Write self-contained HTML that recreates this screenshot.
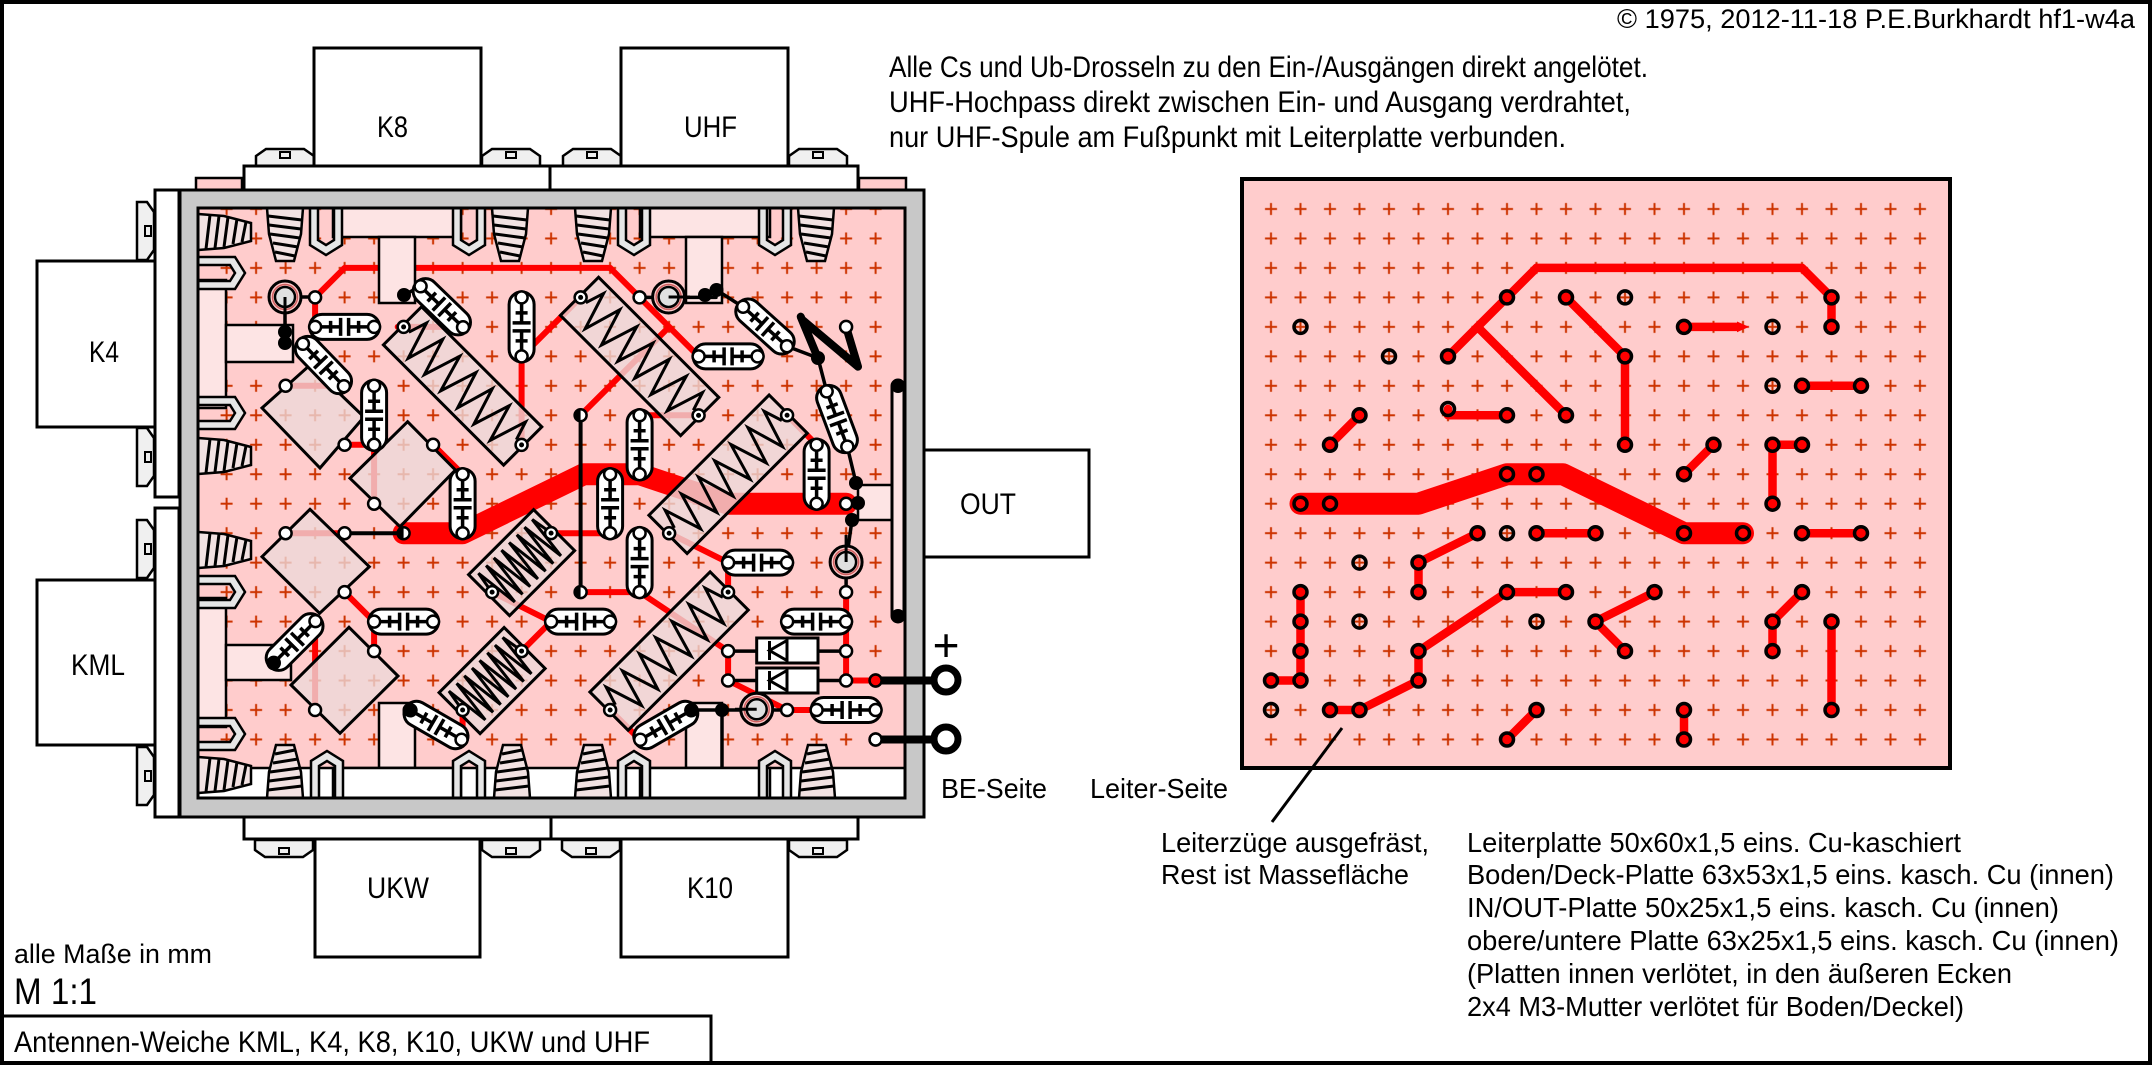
<!DOCTYPE html>
<html><head><meta charset="utf-8"><style>html,body{margin:0;padding:0;background:#fff}svg{display:block}</style></head>
<body>
<svg xmlns="http://www.w3.org/2000/svg" width="2153" height="1066" viewBox="0 0 2153 1066" font-family="'Liberation Sans', Arial, sans-serif">
<defs>
 <pattern id="pl" patternUnits="userSpaceOnUse" x="211.85" y="194.265" width="29.5" height="29.47">
  <path d="M8.75 14.735H20.75M14.75 8.735V20.735" stroke="#cc3300" stroke-width="2" fill="none"/>
 </pattern>
 <pattern id="pr" patternUnits="userSpaceOnUse" x="1256.25" y="194.265" width="29.5" height="29.47">
  <path d="M8.75 14.735H20.75M14.75 8.735V20.735" stroke="#cc3300" stroke-width="2" fill="none"/>
 </pattern>
 <g id="cap">
  <rect x="-35" y="-12.5" width="70" height="25" rx="12.5" fill="#fff" stroke="#000" stroke-width="3"/>
  <path d="M-23 0H-4M-4 -9V9M4 -9V9M4 0H23M-14 -6V6M14 -6V6" stroke="#000" stroke-width="3.5" fill="none"/>
  <circle cx="-29.5" cy="0" r="6" fill="#fff" stroke="#000" stroke-width="2.5"/>
  <circle cx="29.5" cy="0" r="6" fill="#fff" stroke="#000" stroke-width="2.5"/>
 </g>
 <g id="indL">
  <rect x="-85" y="-27" width="170" height="54" fill="#eed8d8" fill-opacity="0.8" stroke="#000" stroke-width="3"/>
  <polyline points="-76,0 -70,-19 -58,19 -47,-19 -35,19 -23,-19 -12,19 0,-19 12,19 23,-19 35,19 47,-19 58,19 70,-19 76,0" fill="none" stroke="#000" stroke-width="3"/>
  <circle cx="-83.4" cy="0" r="6" fill="#fff" stroke="#000" stroke-width="2.5"/>
  <circle cx="83.4" cy="0" r="6" fill="#fff" stroke="#000" stroke-width="2.5"/>
  <circle cx="-83.4" cy="0" r="2.5" fill="#000"/>
  <circle cx="83.4" cy="0" r="2.5" fill="#000"/>
 </g>
 <g id="indS">
  <rect x="-46" y="-29" width="92" height="58" fill="#eed8d8" fill-opacity="0.8" stroke="#000" stroke-width="3"/>
  <polyline points="-42,0 -38,-23 -32.6,23 -27.1,-23 -21.7,23 -16.3,-23 -10.9,23 -5.4,-23 0,23 5.4,-23 10.9,23 16.3,-23 21.7,23 27.1,-23 32.6,23 38,-23 42,0" fill="none" stroke="#000" stroke-width="3"/>
  <circle cx="-41.7" cy="0" r="6" fill="#fff" stroke="#000" stroke-width="2.5"/>
  <circle cx="41.7" cy="0" r="6" fill="#fff" stroke="#000" stroke-width="2.5"/>
  <circle cx="-41.7" cy="0" r="2.5" fill="#000"/>
  <circle cx="41.7" cy="0" r="2.5" fill="#000"/>
 </g>
 <g id="cone">
  <path d="M0 0H36L34 26L27 53H9L2 26Z" fill="#f2e2e2" stroke="#000" stroke-width="2.5"/>
  <path d="M1 8L35 12M2 17L34 21M3 26L33 30M6 35L31 39M8 44L28 48" stroke="#000" stroke-width="3" fill="none"/>
 </g>
 <g id="clip">
  <path d="M0 0V37L16 47L32 37V0H24V32L16 37L8 32V0Z" fill="#e6e6e6" stroke="#000" stroke-width="2.5"/>
 </g>
 <g id="scr">
  <path d="M0 18V8L10 1H48L58 8V18Z" fill="#f0f0f0" stroke="#000" stroke-width="2.5"/>
  <rect x="24" y="4" width="10" height="6" fill="#f0f0f0" stroke="#000" stroke-width="2"/>
 </g>
 <g id="coax">
  <circle r="16" fill="#ffcccc" stroke="#000" stroke-width="3"/>
  <circle r="12.5" fill="none" stroke="#d06060" stroke-width="1.5"/>
  <circle r="10" fill="#e0e0e0" stroke="#000" stroke-width="2.5"/>
 </g>
 <circle id="pad" r="6" fill="#fff" stroke="#000" stroke-width="2.5"/>
</defs>

<rect x="0" y="0" width="2153" height="1066" fill="#fff"/>
<rect x="2" y="2" width="2148" height="1061" fill="none" stroke="#000" stroke-width="4"/>

<!-- top connectors -->
<use href="#scr" transform="translate(256,148)"/>
<use href="#scr" transform="translate(482,148)"/>
<use href="#scr" transform="translate(563,148)"/>
<use href="#scr" transform="translate(789,148)"/>
<rect x="314" y="48" width="167" height="118" fill="#fff" stroke="#000" stroke-width="3"/>
<rect x="621" y="48" width="167" height="118" fill="#fff" stroke="#000" stroke-width="3"/>
<rect x="244" y="166" width="306" height="24" fill="#fff" stroke="#000" stroke-width="3"/>
<rect x="550" y="166" width="308" height="24" fill="#fff" stroke="#000" stroke-width="3"/>
<rect x="196" y="178" width="46" height="12" fill="#ffcccc" stroke="#000" stroke-width="2.5"/>
<rect x="859" y="178" width="47" height="12" fill="#ffcccc" stroke="#000" stroke-width="2.5"/>

<!-- left connectors -->
<use href="#scr" transform="translate(155,202) rotate(90)"/>
<use href="#scr" transform="translate(155,428) rotate(90)"/>
<use href="#scr" transform="translate(155,520) rotate(90)"/>
<use href="#scr" transform="translate(155,747) rotate(90)"/>
<rect x="37" y="261" width="118" height="166" fill="#fff" stroke="#000" stroke-width="3"/>
<rect x="37" y="580" width="118" height="165" fill="#fff" stroke="#000" stroke-width="3"/>
<rect x="155" y="190" width="24" height="307" fill="#fff" stroke="#000" stroke-width="3"/>
<rect x="155" y="508" width="24" height="309" fill="#fff" stroke="#000" stroke-width="3"/>

<!-- bottom connectors -->
<use href="#scr" transform="translate(255,858) scale(1,-1)"/>
<use href="#scr" transform="translate(482,858) scale(1,-1)"/>
<use href="#scr" transform="translate(562,858) scale(1,-1)"/>
<use href="#scr" transform="translate(789,858) scale(1,-1)"/>
<rect x="315" y="839" width="165" height="118" fill="#fff" stroke="#000" stroke-width="3"/>
<rect x="621" y="839" width="167" height="118" fill="#fff" stroke="#000" stroke-width="3"/>
<rect x="244" y="817" width="307" height="22" fill="#fff" stroke="#000" stroke-width="3"/>
<rect x="551" y="817" width="307" height="22" fill="#fff" stroke="#000" stroke-width="3"/>

<!-- OUT -->
<rect x="924" y="450" width="165" height="107" fill="#fff" stroke="#000" stroke-width="3"/>

<!-- frame -->
<rect x="180" y="190" width="744" height="627" fill="#c8c8c8" stroke="#000" stroke-width="3"/>
<rect x="198" y="208" width="707" height="590" fill="#ffcccc"/>
<rect x="212" y="208" width="678" height="546" fill="url(#pl)"/>

<!-- left board traces (mirrored) -->
<g stroke="#ff0000" stroke-width="6" fill="none" stroke-linecap="round" stroke-linejoin="round">
 <path d="M610.1 267.9H344.6L315.1 297.4V326.9"/>
 <path d="M610.1 267.9L639.6 297.4L698.6 356.4"/>
 <path d="M669.1 326.9L580.6 415.3"/>
 <path d="M580.6 297.4L521.6 356.4V444.8"/>
 <path d="M787.1 415.3L816.6 444.8"/>
 <path d="M698.6 415.3H639.6"/>
 <path d="M462.6 326.9H397.7"/>
 <path d="M344.6 385.8H285.6"/>
 <path d="M462.6 474.2L433.1 444.8"/>
 <path d="M374.1 444.8H344.6M374.1 444.8V503.7"/>
 <path d="M669.1 533.2L728.1 562.6V592.1"/>
 <path d="M610.1 533.2H551.1"/>
 <path d="M846.1 592.1V680.5H875.6"/>
 <path d="M639.6 592.1H580.6"/>
 <path d="M639.6 592.1L728.1 651.1V680.5L787.1 710H816.6"/>
 <path d="M551.1 621.6L492.1 592.1M551.1 621.6L521.6 651.1"/>
 <path d="M610.1 710L639.6 739.5"/>
 <path d="M462.6 710V739.5"/>
 <path d="M344.6 533.2H285.6"/>
 <path d="M344.6 592.1L374.1 621.6V651.1"/>
 <path d="M315.1 621.6V710"/>
 <path d="M846.1 503.7H728.1L639.6 474.2H583.6L462.6 533.2H403.6" stroke-width="22"/>
</g>

<!-- flanges / stems -->
<g fill="#fde4e4" stroke="#000" stroke-width="2.5">
 <rect x="333" y="208" width="128" height="29"/>
 <rect x="379" y="237" width="36" height="66"/>
 <rect x="640" y="208" width="130" height="29"/>
 <rect x="686" y="237" width="36" height="66"/>
 <rect x="198" y="280" width="28" height="128"/>
 <rect x="226" y="325" width="67" height="37"/>
 <rect x="198" y="598" width="28" height="129"/>
 <rect x="226" y="645" width="65" height="35"/>
 <rect x="379" y="703" width="36" height="65"/>
 <rect x="686" y="703" width="36" height="65"/>
 <rect x="858" y="485" width="34" height="35"/>
 <rect x="892" y="380" width="12" height="242" rx="6" stroke-width="3"/>
</g>

<!-- diamonds -->
<g fill="#eed8d8" fill-opacity="0.8" stroke="#000" stroke-width="3">
 <polygon points="310,365 364,417 320,468 262,408"/>
 <polygon points="407.6,421.7 455.4,470 400,526.7 350,478.3"/>
 <polygon points="310,509.3 369.3,566.7 319.6,613.3 262,556.7"/>
 <polygon points="349,627.3 398,676 340,733.3 291,685"/>
</g>

<!-- inductors -->
<use href="#indL" transform="translate(462.6,385.9) rotate(45)"/>
<use href="#indL" transform="translate(639.6,356.4) rotate(45)"/>
<use href="#indL" transform="translate(728.1,474.25) rotate(-45)"/>
<use href="#indL" transform="translate(669.1,651.05) rotate(-45)"/>
<use href="#indS" transform="translate(521.6,562.65) rotate(-45)"/>
<use href="#indS" transform="translate(492.1,680.55) rotate(-45)"/>

<!-- wires -->
<g stroke="#000" stroke-width="3.5" fill="none" stroke-linecap="round">
 <path d="M285 297H315"/>
 <path d="M285 305V345"/>
 <path d="M344.6 533.2H403.6" stroke-width="4"/>
 <path d="M580.6 415.3V592.1" stroke-width="4"/>
 <path d="M639.6 297.4H716"/>
 <path d="M716.5 290L743 307"/>
 <path d="M786.9 346.2L818 358"/>
 <path d="M818 358L826.7 391.4"/>
 <path d="M847.3 446.6L856 483"/>
 <path d="M852 520L846.1 562V592"/>
 <path d="M404 295L420.6 286.3"/>
 <path d="M691.6 710H787"/>
 <path d="M722 710V768"/>
 <path d="M728.1 651.1H756.7M818 651.1H846.1M728.1 680.5H756.7M818 680.5H846.1"/>
 <path d="M800.7 316.7L818 358.3M802.6 320L858 366.7L846.1 326.9" stroke-width="8" stroke-linejoin="round"/>
</g>

<!-- caps -->
<use href="#cap" transform="translate(344.6,326.9)"/>
<use href="#cap" transform="translate(323.4,365) rotate(46)"/>
<use href="#cap" transform="translate(441.8,306.8) rotate(44)"/>
<use href="#cap" transform="translate(521.6,326.9) rotate(90)"/>
<use href="#cap" transform="translate(374.1,415.3) rotate(90)"/>
<use href="#cap" transform="translate(462.6,503.7) rotate(90)"/>
<use href="#cap" transform="translate(639.6,444.8) rotate(90)"/>
<use href="#cap" transform="translate(610.1,503.7) rotate(90)"/>
<use href="#cap" transform="translate(639.6,562.6) rotate(90)"/>
<use href="#cap" transform="translate(728.1,356.4)"/>
<use href="#cap" transform="translate(757.6,562.6)"/>
<use href="#cap" transform="translate(765,326.5) rotate(42)"/>
<use href="#cap" transform="translate(837,419) rotate(69.5)"/>
<use href="#cap" transform="translate(403.6,621.6)"/>
<use href="#cap" transform="translate(294.6,642) rotate(-45)"/>
<use href="#cap" transform="translate(436,725) rotate(30)"/>
<use href="#cap" transform="translate(580.6,621.6)"/>
<use href="#cap" transform="translate(816.6,474.2) rotate(90)"/>
<use href="#cap" transform="translate(816.6,621.6)"/>
<use href="#cap" transform="translate(846.1,710)"/>
<use href="#cap" transform="translate(665.8,725) rotate(-30)"/>

<!-- diodes -->
<g stroke="#000" stroke-width="3" fill="#fff">
 <rect x="756.7" y="638" width="61.3" height="25"/>
 <rect x="756.7" y="668" width="61.3" height="25"/>
 <path d="M787 638V663M787 668V693M769.5 641V660M769.5 671V690" fill="none"/>
 <path d="M786 641L769.5 650.5L786 660M786 671L769.5 680.5L786 690" fill="none"/>
</g>

<!-- coax -->
<use href="#coax" x="285" y="297"/>
<use href="#coax" x="668.6" y="297"/>
<use href="#coax" x="846.1" y="562"/>
<use href="#coax" x="756.7" y="709.3"/>
<path d="M285 297V330" stroke="#000" stroke-width="3"/>
<path d="M668.6 297H690" stroke="#000" stroke-width="3"/>
<path d="M846.1 562V535" stroke="#000" stroke-width="3"/>
<path d="M756.7 709.3H735" stroke="#000" stroke-width="3"/>

<!-- pads -->
<use href="#pad" x="315.1" y="297.4"/>
<use href="#pad" x="639.6" y="297.4"/>
<use href="#pad" x="846.1" y="326.9"/>
<use href="#pad" x="285.6" y="385.8"/>
<use href="#pad" x="344.6" y="444.8"/>
<use href="#pad" x="374.1" y="444.8"/>
<use href="#pad" x="433.1" y="444.8"/>
<use href="#pad" x="374.1" y="503.7"/>
<use href="#pad" x="403.6" y="533.2"/>
<use href="#pad" x="285.6" y="533.2"/>
<use href="#pad" x="344.6" y="533.2"/>
<use href="#pad" x="344.6" y="592.1"/>
<use href="#pad" x="374.1" y="651.1"/>
<use href="#pad" x="315.1" y="710"/>
<use href="#pad" x="580.6" y="415.3"/>
<use href="#pad" x="580.6" y="592.1"/>
<use href="#pad" x="728.1" y="651.1"/>
<use href="#pad" x="846.1" y="651.1"/>
<use href="#pad" x="728.1" y="680.5"/>
<use href="#pad" x="846.1" y="680.5"/>
<use href="#pad" x="846.1" y="592.1"/>
<use href="#pad" x="787.1" y="710"/>
<use href="#pad" x="846.1" y="503.7"/>
<use href="#pad" x="875.6" y="739.5"/>
<circle cx="875.6" cy="680.5" r="6" fill="#ff0000" stroke="#000" stroke-width="2.5"/>
<g fill="#000">
 <path d="M403.6 527.2A6 6 0 0 0 403.6 539.2Z"/>
 <path d="M580.6 409.3A6 6 0 0 0 580.6 421.3Z"/>
 <path d="M580.6 586.1A6 6 0 0 0 580.6 598.1Z"/>
</g>

<!-- blobs -->
<g fill="#000">
 <circle cx="285" cy="332" r="7"/><circle cx="285" cy="343" r="7"/>
 <circle cx="404" cy="295" r="7"/>
 <circle cx="705" cy="295" r="7"/><circle cx="716.5" cy="290" r="7"/>
 <circle cx="818" cy="358" r="7"/>
 <circle cx="856" cy="483" r="7"/><circle cx="858" cy="503" r="7"/><circle cx="852" cy="520" r="7"/>
 <circle cx="898" cy="386" r="7"/><circle cx="898" cy="616" r="7"/>
 <circle cx="273.6" cy="663.3" r="7"/>
 <circle cx="409.5" cy="710" r="7"/>
 <circle cx="691.6" cy="710" r="7"/><circle cx="722" cy="710" r="7"/>
</g>

<!-- bottom inner strip -->
<rect x="198" y="768" width="707" height="30" fill="#fff"/>
<path d="M198 768H905" stroke="#000" stroke-width="2.5"/>
<rect x="333" y="768" width="128" height="30" fill="#fff" stroke="#000" stroke-width="2.5"/>
<rect x="640" y="768" width="130" height="30" fill="#fff" stroke="#000" stroke-width="2.5"/>

<!-- cones & clips -->
<use href="#cone" transform="translate(267,208)"/>
<use href="#cone" transform="translate(492,208)"/>
<use href="#cone" transform="translate(575,208)"/>
<use href="#cone" transform="translate(798,208)"/>
<use href="#clip" transform="translate(310,208)"/>
<use href="#clip" transform="translate(453,208)"/>
<use href="#clip" transform="translate(618,208)"/>
<use href="#clip" transform="translate(759,208)"/>
<use href="#cone" transform="translate(267,798) scale(1,-1)"/>
<use href="#cone" transform="translate(494,798) scale(1,-1)"/>
<use href="#cone" transform="translate(575,798) scale(1,-1)"/>
<use href="#cone" transform="translate(799,798) scale(1,-1)"/>
<use href="#clip" transform="translate(311,798) scale(1,-1)"/>
<use href="#clip" transform="translate(453,798) scale(1,-1)"/>
<use href="#clip" transform="translate(618,798) scale(1,-1)"/>
<use href="#clip" transform="translate(759,798) scale(1,-1)"/>
<use href="#cone" transform="translate(198,250) rotate(-90)"/>
<use href="#cone" transform="translate(198,474) rotate(-90)"/>
<use href="#cone" transform="translate(198,568) rotate(-90)"/>
<use href="#cone" transform="translate(198,793) rotate(-90)"/>
<use href="#clip" transform="translate(198,289) rotate(-90)"/>
<use href="#clip" transform="translate(198,429) rotate(-90)"/>
<use href="#clip" transform="translate(198,608) rotate(-90)"/>
<use href="#clip" transform="translate(198,750) rotate(-90)"/>

<!-- inner border -->
<rect x="198" y="208" width="707" height="590" fill="none" stroke="#000" stroke-width="3"/>

<!-- terminals -->
<path d="M875.6 680.5H934M875.6 739.5H934" stroke="#000" stroke-width="8"/>
<circle cx="875.6" cy="680.5" r="6" fill="#ff0000" stroke="#000" stroke-width="2.5"/>
<use href="#pad" x="875.6" y="739.5"/>
<circle cx="946" cy="680" r="12" fill="#fff" stroke="#000" stroke-width="7"/>
<circle cx="946" cy="739" r="12" fill="#fff" stroke="#000" stroke-width="7"/>

<!-- right board -->
<rect x="1242" y="179" width="708" height="589" fill="#ffcccc" stroke="#000" stroke-width="4"/>
<rect x="1256" y="195" width="680" height="560" fill="url(#pr)"/>
<g stroke="#ff0000" stroke-width="8.5" fill="none" stroke-linecap="round" stroke-linejoin="round">
 <path d="M1536.5 267.9H1802L1831.5 297.4V326.9"/>
 <path d="M1536.5 267.9L1448 356.4"/>
 <path d="M1477.5 326.9L1566 415.3"/>
 <path d="M1566 297.4L1625 356.4V444.8"/>
 <path d="M1359.5 415.3L1330 444.8"/>
 <path d="M1448 409V415.3H1507"/>
 <path d="M1684 326.9H1738" stroke-linecap="butt"/>
 <path d="M1802 385.8H1861"/>
 <path d="M1684 474.2L1713.5 444.8"/>
 <path d="M1772.5 444.8H1802M1772.5 444.8V503.7"/>
 <path d="M1477.5 533.2L1418.5 562.6V592.1"/>
 <path d="M1536.5 533.2H1595.5"/>
 <path d="M1300.5 592.1V680.5H1271"/>
 <path d="M1507 592.1H1566"/>
 <path d="M1507 592.1L1418.5 651.1V680.5L1359.5 710H1330"/>
 <path d="M1595.5 621.6L1654.5 592.1M1595.5 621.6L1625 651.1"/>
 <path d="M1536.5 710L1507 739.5"/>
 <path d="M1684 710V739.5"/>
 <path d="M1802 533.2H1861"/>
 <path d="M1802 592.1L1772.5 621.6V651.1"/>
 <path d="M1831.5 621.6V710"/>
 <path d="M1300.5 503.7H1418.5L1507 474.2H1563L1684 533.2H1743" stroke-width="22"/>
</g>
<polygon points="1737,321.5 1749,326.9 1737,332.3" fill="#ff0000"/>
<g stroke="#000" stroke-width="3.5" fill="#ff0000">
 <circle cx="1507" cy="297.4" r="6.5"/><circle cx="1566" cy="297.4" r="6.5"/><circle cx="1684" cy="326.9" r="6.5"/>
 <circle cx="1448" cy="356.4" r="6.5"/><circle cx="1625" cy="356.4" r="6.5"/><circle cx="1359.5" cy="415.3" r="6.5"/>
 <circle cx="1507" cy="415.3" r="6.5"/><circle cx="1566" cy="415.3" r="6.5"/><circle cx="1330" cy="444.8" r="6.5"/>
 <circle cx="1625" cy="444.8" r="6.5"/><circle cx="1507" cy="474.2" r="6.5"/><circle cx="1536.5" cy="474.2" r="6.5"/>
 <circle cx="1684" cy="474.2" r="6.5"/><circle cx="1831.5" cy="297.4" r="6.5"/><circle cx="1831.5" cy="326.9" r="6.5"/>
 <circle cx="1802" cy="385.8" r="6.5"/><circle cx="1861" cy="385.8" r="6.5"/><circle cx="1713.5" cy="444.8" r="6.5"/>
 <circle cx="1772.5" cy="444.8" r="6.5"/><circle cx="1802" cy="444.8" r="6.5"/><circle cx="1300.5" cy="503.7" r="6.5"/>
 <circle cx="1330" cy="503.7" r="6.5"/><circle cx="1684" cy="533.2" r="6.5"/><circle cx="1477.5" cy="533.2" r="6.5"/>
 <circle cx="1536.5" cy="533.2" r="6.5"/><circle cx="1595.5" cy="533.2" r="6.5"/><circle cx="1418.5" cy="562.6" r="6.5"/>
 <circle cx="1300.5" cy="592.1" r="6.5"/><circle cx="1418.5" cy="592.1" r="6.5"/><circle cx="1507" cy="592.1" r="6.5"/>
 <circle cx="1566" cy="592.1" r="6.5"/><circle cx="1654.5" cy="592.1" r="6.5"/><circle cx="1300.5" cy="621.6" r="6.5"/>
 <circle cx="1595.5" cy="621.6" r="6.5"/><circle cx="1300.5" cy="651.1" r="6.5"/><circle cx="1418.5" cy="651.1" r="6.5"/>
 <circle cx="1625" cy="651.1" r="6.5"/><circle cx="1271" cy="680.5" r="6.5"/><circle cx="1300.5" cy="680.5" r="6.5"/>
 <circle cx="1418.5" cy="680.5" r="6.5"/><circle cx="1330" cy="710" r="6.5"/><circle cx="1359.5" cy="710" r="6.5"/>
 <circle cx="1536.5" cy="710" r="6.5"/><circle cx="1684" cy="710" r="6.5"/><circle cx="1507" cy="739.5" r="6.5"/>
 <circle cx="1684" cy="739.5" r="6.5"/><circle cx="1772.5" cy="503.7" r="6.5"/><circle cx="1743" cy="533.2" r="6.5"/>
 <circle cx="1802" cy="533.2" r="6.5"/><circle cx="1861" cy="533.2" r="6.5"/><circle cx="1802" cy="592.1" r="6.5"/>
 <circle cx="1772.5" cy="621.6" r="6.5"/><circle cx="1772.5" cy="651.1" r="6.5"/><circle cx="1831.5" cy="621.6" r="6.5"/>
 <circle cx="1831.5" cy="710" r="6.5"/>
</g>
<g stroke="#000" stroke-width="3.5" fill="none">
 <circle cx="1625" cy="297.4" r="6.5"/><circle cx="1300.5" cy="326.9" r="6.5"/><circle cx="1389" cy="356.4" r="6.5"/>
 <circle cx="1448" cy="409" r="6.5"/><circle cx="1772.5" cy="326.9" r="6.5"/><circle cx="1772.5" cy="385.8" r="6.5"/>
 <circle cx="1507" cy="533.2" r="6.5"/><circle cx="1359.5" cy="562.6" r="6.5"/><circle cx="1359.5" cy="621.6" r="6.5"/>
 <circle cx="1536.5" cy="621.6" r="6.5"/><circle cx="1271" cy="710" r="6.5"/>
</g>
<path d="M1342 728L1272 822" stroke="#000" stroke-width="3"/>

<!-- texts -->
<g fill="#000">
 <text x="1617" y="28" font-size="27" textLength="518" lengthAdjust="spacingAndGlyphs">© 1975, 2012-11-18 P.E.Burkhardt hf1-w4a</text>
 <text x="889" y="77" font-size="30" textLength="759" lengthAdjust="spacingAndGlyphs">Alle Cs und Ub-Drosseln zu den Ein-/Ausgängen direkt angelötet.</text>
 <text x="889" y="112" font-size="30" textLength="742" lengthAdjust="spacingAndGlyphs">UHF-Hochpass direkt zwischen Ein- und Ausgang verdrahtet,</text>
 <text x="889" y="147" font-size="30" textLength="677" lengthAdjust="spacingAndGlyphs">nur UHF-Spule am Fußpunkt mit Leiterplatte verbunden.</text>
 <text x="377" y="137" font-size="30" textLength="31" lengthAdjust="spacingAndGlyphs">K8</text>
 <text x="684" y="137" font-size="30" textLength="53" lengthAdjust="spacingAndGlyphs">UHF</text>
 <text x="89" y="362" font-size="30" textLength="30" lengthAdjust="spacingAndGlyphs">K4</text>
 <text x="71" y="675" font-size="30" textLength="54" lengthAdjust="spacingAndGlyphs">KML</text>
 <text x="367" y="898" font-size="30" textLength="62" lengthAdjust="spacingAndGlyphs">UKW</text>
 <text x="687" y="898" font-size="30" textLength="46" lengthAdjust="spacingAndGlyphs">K10</text>
 <text x="960" y="514" font-size="30" textLength="56" lengthAdjust="spacingAndGlyphs">OUT</text>
 <text x="946" y="661" font-size="46" text-anchor="middle">+</text>
 <text x="941" y="798" font-size="28" textLength="106" lengthAdjust="spacingAndGlyphs">BE-Seite</text>
 <text x="1090" y="798" font-size="28" textLength="138" lengthAdjust="spacingAndGlyphs">Leiter-Seite</text>
 <text x="1161" y="852" font-size="28" textLength="268" lengthAdjust="spacingAndGlyphs">Leiterzüge ausgefräst,</text>
 <text x="1161" y="884" font-size="28" textLength="248" lengthAdjust="spacingAndGlyphs">Rest ist Massefläche</text>
 <text x="1467" y="852" font-size="28" textLength="494" lengthAdjust="spacingAndGlyphs">Leiterplatte 50x60x1,5 eins. Cu-kaschiert</text>
 <text x="1467" y="884" font-size="28" textLength="647" lengthAdjust="spacingAndGlyphs">Boden/Deck-Platte 63x53x1,5 eins. kasch. Cu (innen)</text>
 <text x="1467" y="917" font-size="28" textLength="592" lengthAdjust="spacingAndGlyphs">IN/OUT-Platte 50x25x1,5 eins. kasch. Cu (innen)</text>
 <text x="1467" y="950" font-size="28" textLength="652" lengthAdjust="spacingAndGlyphs">obere/untere Platte 63x25x1,5 eins. kasch. Cu (innen)</text>
 <text x="1467" y="983" font-size="28" textLength="545" lengthAdjust="spacingAndGlyphs">(Platten innen verlötet, in den äußeren Ecken</text>
 <text x="1467" y="1016" font-size="28" textLength="497" lengthAdjust="spacingAndGlyphs">2x4 M3-Mutter verlötet für Boden/Deckel)</text>
 <text x="14" y="963" font-size="27" textLength="198" lengthAdjust="spacingAndGlyphs">alle Maße in mm</text>
 <text x="14" y="1004" font-size="37" textLength="83" lengthAdjust="spacingAndGlyphs">M 1:1</text>
 <text x="14" y="1052" font-size="30" textLength="636" lengthAdjust="spacingAndGlyphs">Antennen-Weiche KML, K4, K8, K10, UKW und UHF</text>
</g>
<path d="M2 1016H711V1063" fill="none" stroke="#000" stroke-width="3"/>
</svg>
</body></html>
